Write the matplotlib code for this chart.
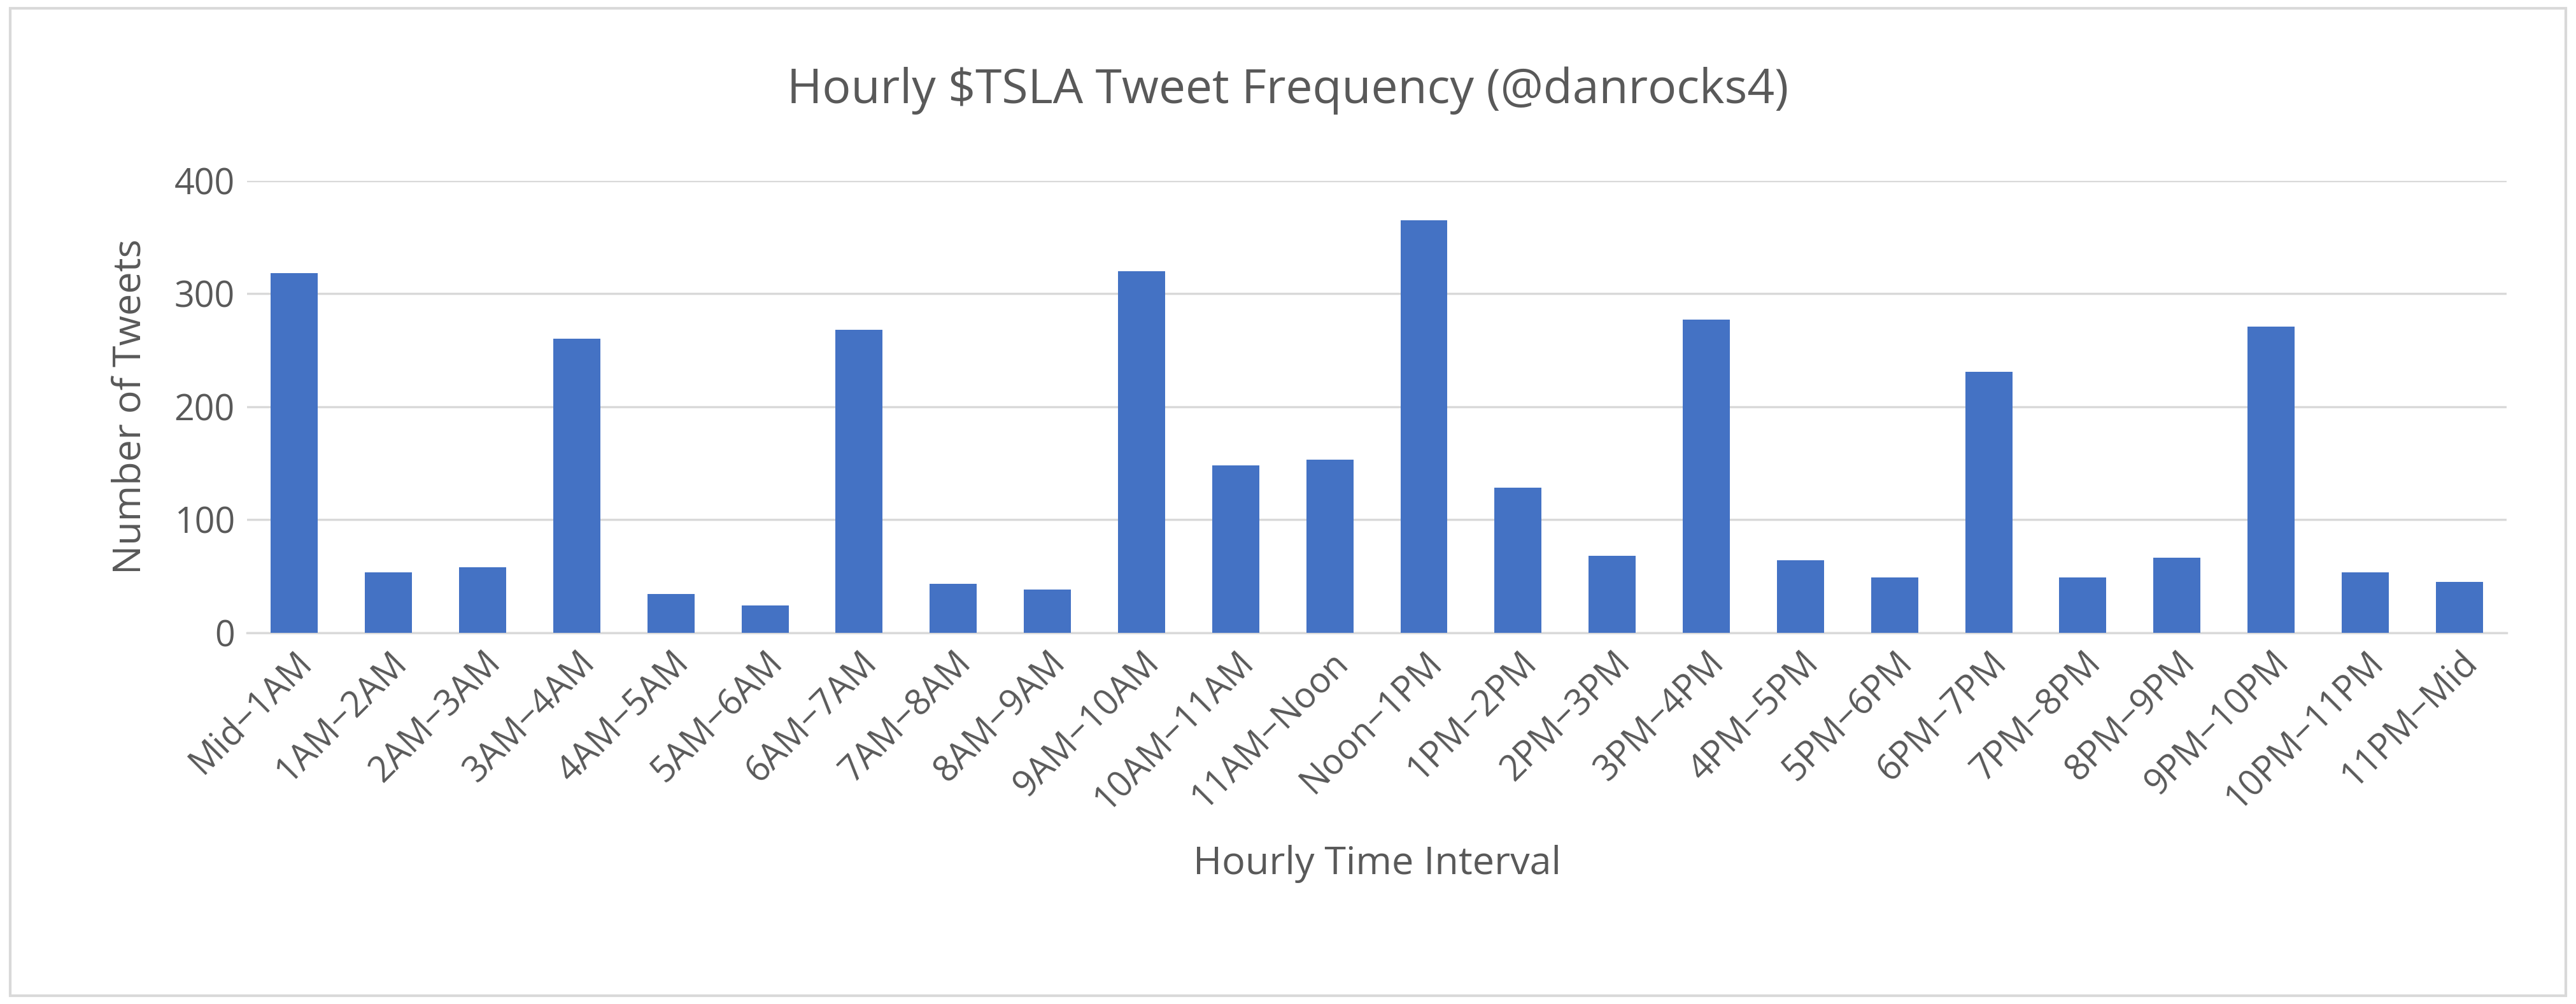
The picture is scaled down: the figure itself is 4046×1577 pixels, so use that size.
import matplotlib
matplotlib.use("Agg")
import matplotlib.pyplot as plt
from matplotlib.patches import Rectangle

categories = ["Mid−1AM","1AM−2AM","2AM−3AM","3AM−4AM","4AM−5AM","5AM−6AM","6AM−7AM","7AM−8AM",
              "8AM−9AM","9AM−10AM","10AM−11AM","11AM−Noon","Noon−1PM","1PM−2PM","2PM−3PM","3PM−4PM",
              "4PM−5PM","5PM−6PM","6PM−7PM","7PM−8PM","8PM−9PM","9PM−10PM","10PM−11PM","11PM−Mid"]
tweets = [318,53,58,260,34,24,268,43,38,320,148,153,365,128,68,277,64,49,231,49,66,271,53,45]
yticks = [0,100,200,300,400]

plt.rcParams['font.family'] = ['Open Sans', 'DejaVu Sans']
fig = plt.figure(figsize=(40.46,15.77), dpi=100)
fig.patches.append(Rectangle((0.004,0.008),0.992,0.984,transform=fig.transFigure,
                             fill=False,edgecolor='#d9d9d9',linewidth=3))
ax = fig.add_axes([0.096,0.37,0.877,0.45])
x = range(len(categories))
ax.bar(x, tweets, width=0.5, color='#4472c4', zorder=3)
ax.set_xlim(-0.5, len(categories)-0.5)
ax.set_ylim(0,400)
ax.set_yticks(yticks)
ax.grid(axis='y', color='#d9d9d9', linewidth=2.5, zorder=0)
for s in ['top','right','left']:
    ax.spines[s].set_visible(False)
ax.spines['bottom'].set_color('#d9d9d9'); ax.spines['bottom'].set_linewidth(2.5)
ax.tick_params(axis='both', length=0, labelsize=40, colors='#595959', pad=14)
ax.set_xticks(list(x))
ax.set_xticklabels(categories, rotation=45, ha='right', rotation_mode='anchor')
ax.set_ylabel("Number of Tweets", fontsize=44, color='#595959', labelpad=28)
ax.set_xlabel("Hourly Time Interval", fontsize=44, color='#595959', labelpad=30)
fig.text(0.5, 0.91, "Hourly $TSLA Tweet Frequency (@danrocks4)", ha='center', va='center',
         fontsize=54, color='#595959')
fig.savefig("out.png", dpi=100)
